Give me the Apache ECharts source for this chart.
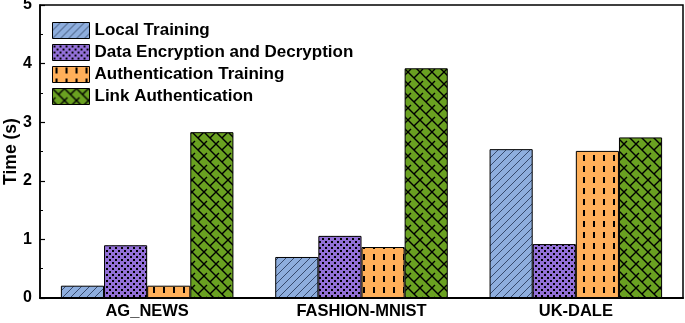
<!DOCTYPE html>
<html>
<head>
<meta charset="utf-8">
<script src="https://cdn.jsdelivr.net/npm/echarts@6/dist/echarts.min.js"></script>
<style>
  html, body { margin: 0; padding: 0; background: #fff; }
  #chart { width: 685px; height: 323px; }
</style>
</head>
<body>
<div id="chart"></div>
<script>
// data
const categories = ['AG_NEWS', 'FASHION-MNIST', 'UK-DALE'];
const localTraining = [0.21, 0.70, 2.54];
const encryption = [0.90, 1.06, 0.92];
const authTraining = [0.21, 0.87, 2.51];
const linkAuth = [2.83, 3.92, 2.74];
const yTicks = [0, 1, 2, 3, 4, 5];

function makePattern(bg, draw, w, h) {
    const c = document.createElement('canvas');
    c.width = w; c.height = h;
    const ctx = c.getContext('2d');
    ctx.fillStyle = bg;
    ctx.fillRect(0, 0, w, h);
    ctx.fillStyle = '#000';
    ctx.strokeStyle = '#000';
    draw(ctx, w, h);
    return { image: c, repeat: 'repeat' };
}

// diagonal lines
const blueFill = makePattern('#8eaede', function (ctx, w, h) {
    ctx.strokeStyle = '#2e3e60';
    ctx.lineWidth = 0.9;
    ctx.beginPath();
    for (let k = -1; k <= 1; k++) {
        ctx.moveTo(k * w, h);
        ctx.lineTo(k * w + w, 0);
    }
    ctx.stroke();
}, 8, 8);

// dots
const purpleFill = makePattern('#9370d8', function (ctx) {
    ctx.fillRect(1, 1, 2, 2);
    ctx.fillRect(4, 4, 2, 2);
}, 6, 6);

// vertical dashes
const orangeFill = makePattern('#ffb05a', function (ctx) {
    ctx.fillRect(3, 1, 2, 6);
}, 10, 11);

// lattice
const greenFill = makePattern('#6aa121', function (ctx, w, h) {
    ctx.lineWidth = 1.4;
    ctx.beginPath();
    for (let k = -1; k <= 1; k++) {
        ctx.moveTo(k * w, 0);
        ctx.lineTo(k * w + w, h);
    }
    ctx.moveTo(w / 2, h / 2);
    ctx.lineTo(w, 0);
    ctx.moveTo(0, h);
    ctx.lineTo(w / 4, h * 3 / 4);
    ctx.stroke();
}, 12, 12);

const font = 'Liberation Sans, Arial, sans-serif';

function bar(name, data, fill) {
    return {
        name: name,
        type: 'bar',
        data: data,
        barGap: '0%',
        barCategoryGap: '19.5%',
        itemStyle: { color: fill, borderColor: '#000', borderWidth: 1 }
    };
}

const chart = echarts.init(document.getElementById('chart'));
chart.setOption({
    animation: false,
    grid: {
        left: 40, right: 2, top: 5, bottom: 25,
        outerBoundsMode: 'none',
        containLabel: false,
        show: true, borderColor: '#000', borderWidth: 1.5
    },
    legend: {
        orient: 'vertical',
        left: 47, top: 17,
        icon: 'rect',
        itemWidth: 37, itemHeight: 16, itemGap: 5,
        textStyle: { fontFamily: font, fontWeight: 'bold', fontSize: 17, lineHeight: 16, color: '#000' },
        itemStyle: { borderColor: '#000', borderWidth: 1 }
    },
    xAxis: {
        type: 'category',
        data: categories,
        axisLine: { lineStyle: { color: '#000', width: 2 } },
        axisTick: { show: false },
        axisLabel: { fontFamily: font, fontWeight: 'bold', fontSize: 16.5, color: '#000', margin: 5 }
    },
    yAxis: {
        type: 'value',
        min: yTicks[0], max: yTicks[yTicks.length - 1], interval: 1,
        name: 'Time (s)',
        nameLocation: 'middle',
        nameGap: 20,
        nameMoveOverlap: false,
        nameTextStyle: { fontFamily: font, fontWeight: 'bold', fontSize: 17.5, color: '#000' },
        axisLine: { show: true, lineStyle: { color: '#000', width: 1.5 } },
        axisTick: { show: true, inside: true, length: 5, lineStyle: { color: '#000', width: 1.2 } },
        minorTick: { show: true, splitNumber: 2, length: 3, lineStyle: { color: '#000', width: 1 } },
        splitLine: { show: false },
        axisLabel: { fontFamily: font, fontWeight: 'bold', fontSize: 16, color: '#000', margin: 8 }
    },
    series: [
        bar('Local Training', localTraining, blueFill),
        bar('Data Encryption and Decryption', encryption, purpleFill),
        bar('Authentication Training', authTraining, orangeFill),
        bar('Link Authentication', linkAuth, greenFill)
    ]
});
</script>
</body>
</html>
